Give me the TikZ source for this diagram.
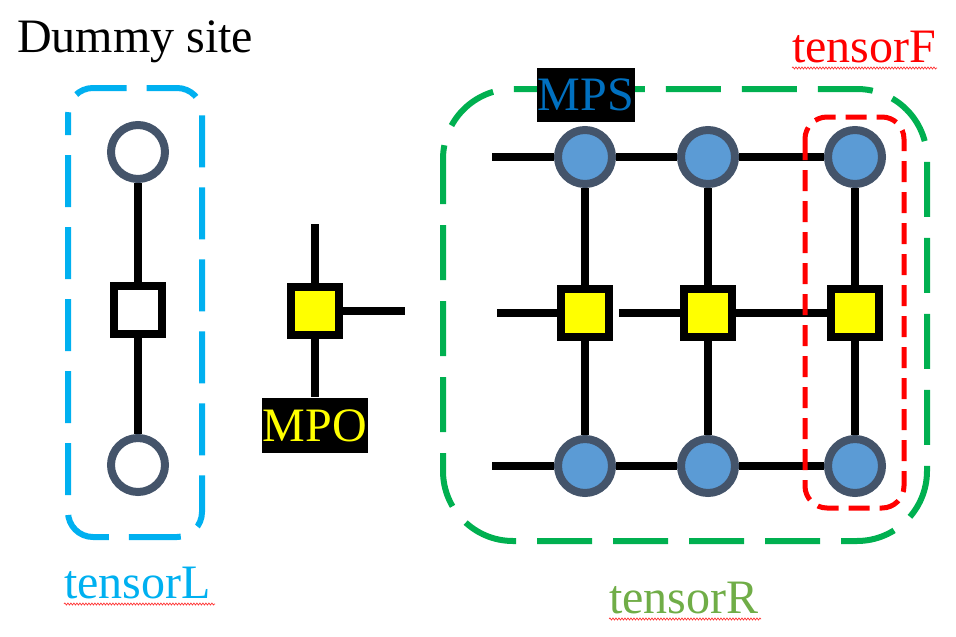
\documentclass[tikz,border=0pt]{standalone}
\usepackage{fontspec}
\newfontfamily\tnr{LiberationSerif}[Extension=.ttf, UprightFont=*-Regular]
\usetikzlibrary{decorations.pathmorphing}
\definecolor{slate}{HTML}{44546A}
\definecolor{mpsblue}{HTML}{5B9BD5}
\definecolor{lblue}{HTML}{00B0F0}
\definecolor{lgreen}{HTML}{00B050}
\definecolor{rgreen}{HTML}{70AD47}
\definecolor{txtblue}{HTML}{0070C0}
\definecolor{myyellow}{HTML}{FFFF00}
\tikzset{
  bond/.style={line width=8, black},
  site/.style={circle, draw=slate, line width=8, minimum size=54, inner sep=0},
  mpssite/.style={site, fill=mpsblue},
  dummysite/.style={site, fill=white},
  tsq/.style={rectangle, draw=black, line width=8, minimum size=48, inner sep=0},
  mposq/.style={tsq, fill=myyellow},
  dummysq/.style={tsq, fill=white},
  lab/.style={font=\tnr\fontsize{48}{52}\selectfont, inner sep=0, anchor=base west},
  tag/.style={font=\tnr\fontsize{48}{52}\selectfont, inner sep=0, fill=black},
  squiggle/.style={red!80!white, line width=0.7, decorate, decoration={snake, amplitude=1, segment length=3}},
}
\begin{document}
\begin{tikzpicture}[x=1pt, y=-1pt]
\useasboundingbox (0,0) rectangle (956,637);

% title
\node[lab] (title) at (17,52) {Dummy site};

% left dummy column
\node[dummysite] (L1) at (138,152) {};
\node[dummysq] (L2) at (138,310) {};
\node[dummysite] (L3) at (138,465) {};
\draw[bond] (L1) -- (L2);
\draw[bond] (L2) -- (L3);
\draw[lblue, line width=6, dash pattern=on 52 off 20, dash phase=30, rounded corners=25] (68,88) rectangle (202,537);
\node[lab, text=lblue] (tL) at (64,598) {tensorL};
\draw[squiggle] (tL.base west) ++(0,6) -- ++(151,0);

% MPO
\node[mposq] (M) at (315,311) {};
\coordinate (Mu) at (315,224);
\coordinate (Mr) at (405,311);
\node[tag, text=myyellow, minimum width=106, minimum height=55] (MPO) at (315,425.5) {MPO};
\coordinate (Md) at (315,397);
\draw[bond] (M) -- (Mu);
\draw[bond] (M) -- (Mr);
\draw[bond] (M) -- (Md);

% right grid
\node[mpssite] (A1) at (585,157) {};
\node[mpssite] (A2) at (708,157) {};
\node[mpssite] (A3) at (855,157) {};
\node[mposq] (B1) at (585,313) {};
\node[mposq] (B2) at (708,313) {};
\node[mposq] (B3) at (855,313) {};
\node[mpssite] (C1) at (585,466) {};
\node[mpssite] (C2) at (708,466) {};
\node[mpssite] (C3) at (855,466) {};
\coordinate (A0) at (492,157);
\coordinate (B0) at (497,313);
\coordinate (Bg) at (619,313);
\coordinate (C0) at (492,466);
\draw[bond] (A0) -- (A1);
\draw[bond] (A1) -- (A2);
\draw[bond] (A2) -- (A3);
\draw[bond] (B0) -- (B1);
\draw[bond] (Bg) -- (B2);
\draw[bond] (B2) -- (B3);
\draw[bond] (C0) -- (C1);
\draw[bond] (C1) -- (C2);
\draw[bond] (C2) -- (C3);
\foreach \c in {1,2,3}{
  \draw[bond] (A\c) -- (B\c);
  \draw[bond] (B\c) -- (C\c);
}

% boxes
\draw[lgreen, line width=6, dash pattern=on 55 off 21, dash phase=10, rounded corners=70] (443,89) rectangle (927,541);
\draw[red, line width=5, dash pattern=on 21 off 10, rounded corners=22] (805,117) rectangle (904,508);

% labels
\node[tag, text=txtblue, minimum width=98, minimum height=54] (MPS) at (586,95) {MPS};
\node[lab, text=red] (tF) at (792,62) {tensorF};
\draw[squiggle] (tF.base west) ++(0,6) -- ++(145,0);
\node[lab, text=rgreen] (tR) at (609,613) {tensorR};
\draw[squiggle] (tR.base west) ++(0,6) -- ++(152,0);
\end{tikzpicture}
\end{document}
